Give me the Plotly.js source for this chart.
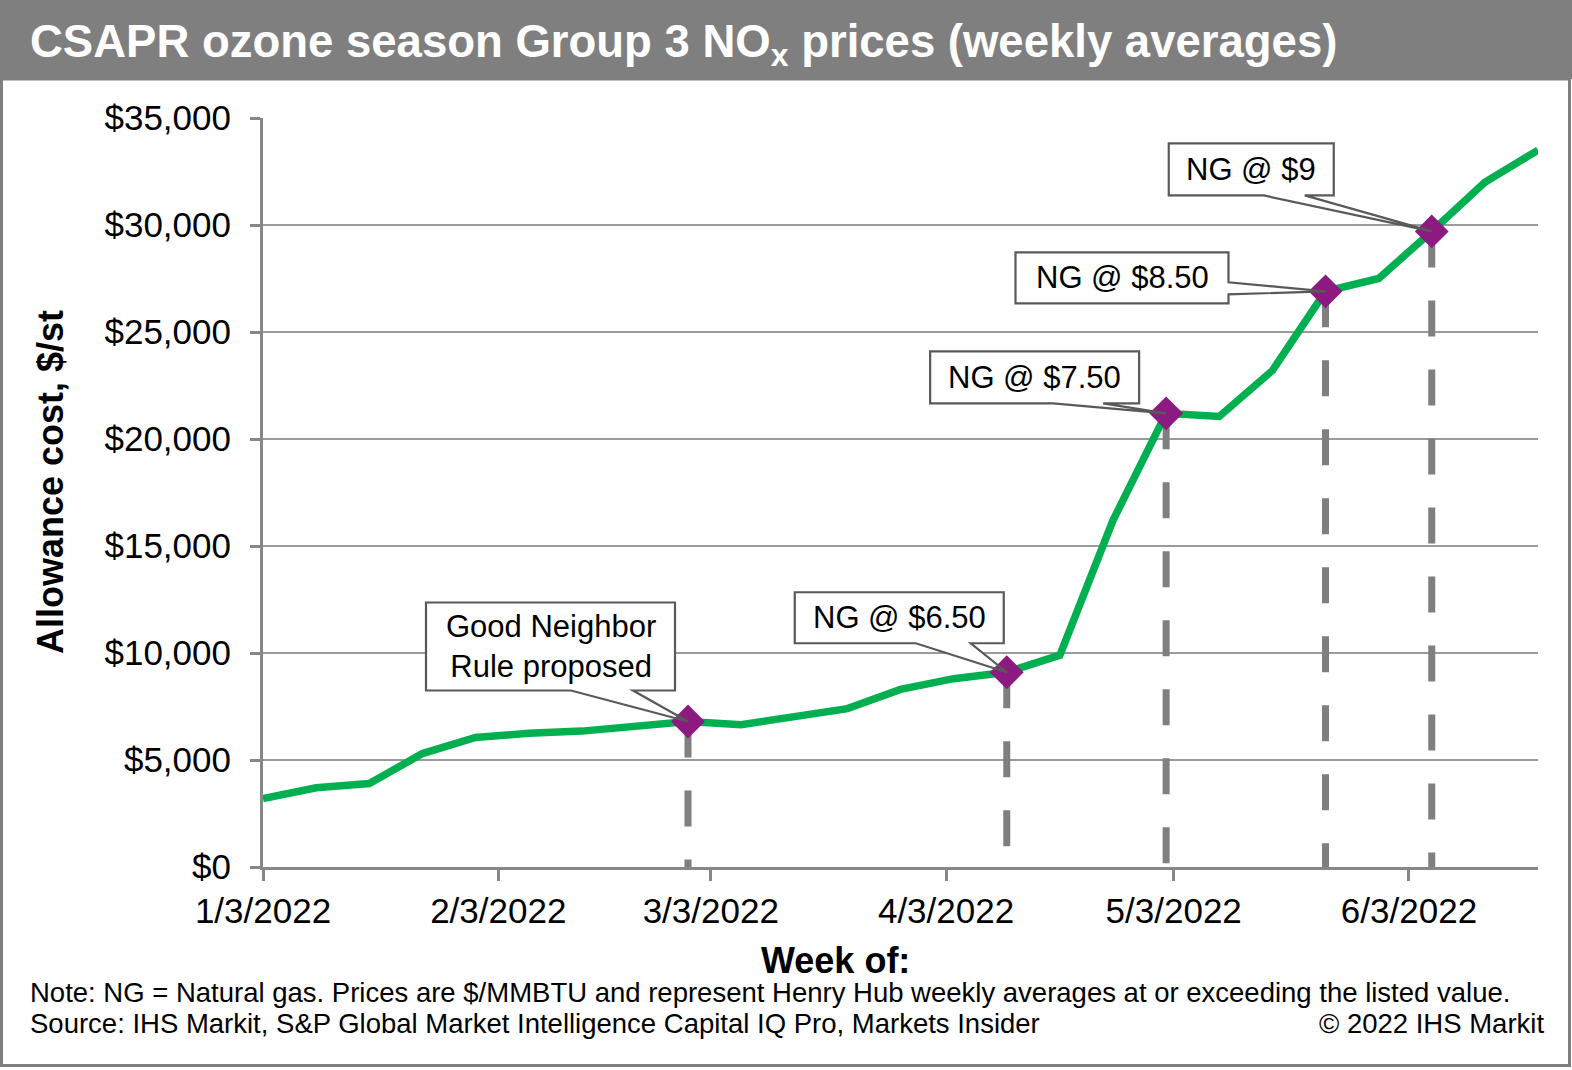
<!DOCTYPE html>
<html><head><meta charset="utf-8">
<script src="https://cdn.plot.ly/plotly-3.0.1.min.js"></script>
<style>html,body{margin:0;padding:0;background:#fff}#chart{width:1572px;height:1070px}</style>
</head><body><div id="chart"></div>
<script>
// ---- data ----
const weeks = ['2022-01-03','2022-01-10','2022-01-17','2022-01-24','2022-01-31','2022-02-07','2022-02-14','2022-02-21','2022-02-28',
  '2022-03-07','2022-03-14','2022-03-21','2022-03-28','2022-04-04','2022-04-11','2022-04-18','2022-04-25',
  '2022-05-02','2022-05-09','2022-05-16','2022-05-23','2022-05-30','2022-06-06','2022-06-13','2022-06-20'];
const prices = [3200,3700,3900,5300,6050,6250,6350,6550,6800,
  6650,7000,7400,8300,8800,9100,9900,16200,
  21200,21050,23200,26900,27500,29700,32000,33500];
const eventWeeks = ['2022-02-28','2022-04-11','2022-05-02','2022-05-23','2022-06-06'];
const eventLabels = ['Good Neighbor<br>Rule proposed','NG @ $6.50','NG @ $7.50','NG @ $8.50','NG @ $9'];
const tickDates = ['2022-01-03','2022-02-03','2022-03-03','2022-04-03','2022-05-03','2022-06-03'];
const tickLabels = ['1/3/2022','2/3/2022','3/3/2022','4/3/2022','5/3/2022','6/3/2022'];
const yTicks = [0,5000,10000,15000,20000,25000,30000,35000];
const yTickLabels = ['$0','$5,000','$10,000','$15,000','$20,000','$25,000','$30,000','$35,000'];
const titleText = 'CSAPR ozone season Group 3 NO<sub>x</sub> prices (weekly averages)';
const yTitle = 'Allowance cost, $/st';
const xTitle = 'Week of:';
const noteText = 'Note: NG = Natural gas. Prices are $/MMBTU and represent Henry Hub weekly averages at or exceeding the listed value.';
const sourceText = 'Source: IHS Markit, S&P Global Market Intelligence Capital IQ Pro, Markets Insider';
const copyText = '© 2022 IHS Markit';

const eventValues = eventWeeks.map(w => prices[weeks.indexOf(w)]);

// ---- callout geometry (pixels relative to marker) ----
const callouts = [
  {x0:-262, x1:-13, yb:31, yt:119, side:'bottom', a:-117, b:-55},
  {x0:-212, x1:-3,  yb:29, yt:80,  side:'bottom', a:-91,  b:-36},
  {x0:-236, x1:-27, yb:10, yt:62,  side:'bottom', a:-113, b:-63},
  {x0:-310, x1:-97, yb:-12, yt:39, side:'right',  a:9,    b:-3},
  {x0:-263, x1:-98, yb:36, yt:88,  side:'bottom', a:-168, b:-127}
];

const FONT = 'Liberation Sans, Arial, sans-serif';
const GRAY = '#7f7f7f';

const traces = [];
eventWeeks.forEach((w, i) => {
  traces.push({x:[w, w], y:[eventValues[i], 0], type:'scatter', mode:'lines',
    line:{color:GRAY, width:7, dash:'36px,33px'}, hoverinfo:'skip'});
});
traces.push({x:weeks, y:prices, type:'scatter', mode:'lines',
  line:{color:'#00b050', width:7.5}, hoverinfo:'skip'});
traces.push({x:eventWeeks, y:eventValues, type:'scatter', mode:'markers',
  marker:{symbol:'diamond', size:26, color:'#8c1a80', line:{width:0}}, hoverinfo:'skip'});

const shapes = [];
const annotations = [];
callouts.forEach((c, i) => {
  let p;
  if (c.side === 'bottom') {
    p = `M ${c.x0},${c.yb} L ${c.a},${c.yb} L 0,0 L ${c.b},${c.yb} L ${c.x1},${c.yb} L ${c.x1},${c.yt} L ${c.x0},${c.yt} Z`;
  } else {
    p = `M ${c.x0},${c.yb} L ${c.x1},${c.yb} L ${c.x1},${c.b} L 0,0 L ${c.x1},${c.a} L ${c.x1},${c.yt} L ${c.x0},${c.yt} Z`;
  }
  const base = {type:'path', xref:'x', yref:'y', xsizemode:'pixel', ysizemode:'pixel',
    xanchor:eventWeeks[i], yanchor:eventValues[i], path:p};
  shapes.push(Object.assign({}, base, {layer:'between', fillcolor:'#ffffff', line:{width:0}}));
  shapes.push(Object.assign({}, base, {layer:'above', fillcolor:'rgba(0,0,0,0)', line:{color:'#595959', width:2.2}}));
  annotations.push({x:eventWeeks[i], y:eventValues[i], xref:'x', yref:'y', text:eventLabels[i],
    showarrow:true, arrowcolor:'rgba(0,0,0,0)', arrowwidth:0.1, arrowhead:0,
    ax:(c.x0 + c.x1)/2, ay:-(c.yb + c.yt)/2, font:{family:FONT, size:31, color:'#000'}, align:'center'});
});

// layout geometry in paper units (plot: x 263..1538, y 118..867)
const L = 263, R = 34, T = 118, B = 203, W = 1572, H = 1070;
const pw = W - L - R, ph = H - T - B;
const px = v => (v - L) / pw;
const py = v => (H - B - v) / ph;

shapes.unshift({type:'rect', xref:'paper', yref:'paper', x0:px(0), x1:px(W), y0:py(79), y1:py(0),
  fillcolor:GRAY, line:{width:0}, layer:'below'});
shapes.unshift({type:'rect', xref:'paper', yref:'paper', x0:px(1.5), x1:px(1569.5), y0:py(1065.5), y1:py(79),
  fillcolor:'rgba(0,0,0,0)', line:{color:GRAY, width:3}, layer:'below'});

annotations.push({xref:'paper', yref:'paper', x:px(50), y:py(482), text:'<b>'+yTitle+'</b>', textangle:-90,
  showarrow:false, font:{family:FONT, size:36, color:'#000'}, xanchor:'center', yanchor:'middle'});
annotations.push({xref:'paper', yref:'paper', x:px(835), y:py(960), text:'<b>'+xTitle+'</b>',
  showarrow:false, font:{family:FONT, size:36, color:'#000'}, xanchor:'center', yanchor:'middle'});
annotations.push({xref:'paper', yref:'paper', x:px(28), y:py(992), text:noteText,
  showarrow:false, font:{family:FONT, size:27.5, color:'#000'}, xanchor:'left', yanchor:'middle'});
annotations.push({xref:'paper', yref:'paper', x:px(28), y:py(1023), text:sourceText,
  showarrow:false, font:{family:FONT, size:27.5, color:'#000'}, xanchor:'left', yanchor:'middle'});
annotations.push({xref:'paper', yref:'paper', x:px(1546), y:py(1023), text:copyText,
  showarrow:false, font:{family:FONT, size:27.5, color:'#000'}, xanchor:'right', yanchor:'middle'});

const layout = {
  width:W, height:H, margin:{l:L, r:R, t:T, b:B},
  paper_bgcolor:'#fff', plot_bgcolor:'#fff', showlegend:false, hovermode:false,
  title:{text:titleText, xref:'container', yref:'container', x:30/W, xanchor:'left', y:1-41/H, yanchor:'middle',
    font:{family:FONT, size:45.5, color:'#fff', weight:700}},
  xaxis:{type:'date', range:['2022-01-03','2022-06-20'], tickmode:'array', tickvals:tickDates, ticktext:tickLabels,
    showgrid:false, zeroline:false, showline:true, linecolor:'#878787', linewidth:3,
    ticks:'outside', ticklen:11, tickwidth:3, tickcolor:'#878787', ticklabelstandoff:0,
    tickfont:{family:FONT, size:35, color:'#000'}},
  yaxis:{range:[0,35000], tickmode:'array', tickvals:yTicks, ticktext:yTickLabels,
    showgrid:true, gridcolor:'#9a9a9a', gridwidth:1.5, zeroline:false, showline:true, linecolor:'#878787', linewidth:3,
    ticks:'outside', ticklen:10, tickwidth:3, tickcolor:'#878787', ticklabelstandoff:12,
    tickfont:{family:FONT, size:35, color:'#000'}},
  shapes:shapes, annotations:annotations
};

Plotly.newPlot('chart', traces, layout, {staticPlot:true, displayModeBar:false});
</script></body></html>
